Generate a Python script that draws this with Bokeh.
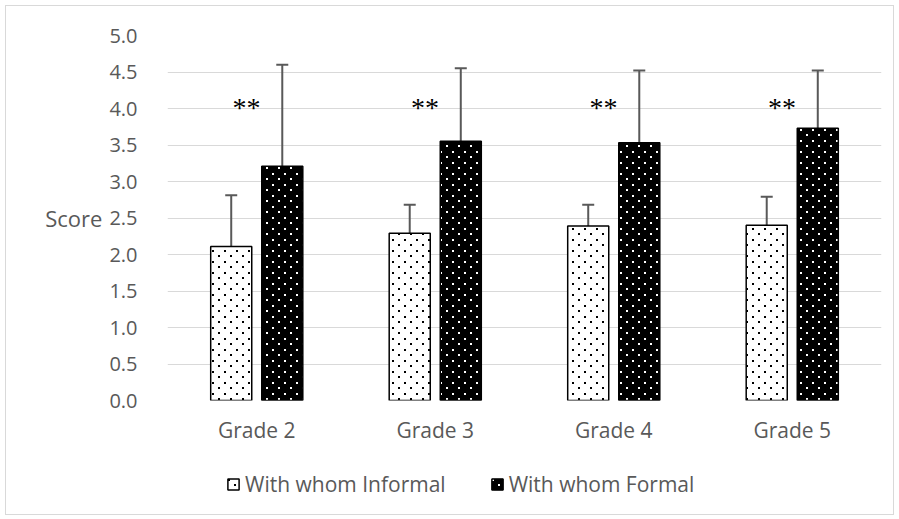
import base64, struct, zlib
from bokeh.plotting import figure
from bokeh.layouts import column
from bokeh.models import (ColumnDataSource, FactorRange, Range1d, Whisker, TeeHead,
                          Legend, LegendItem, ImageURLTexture, FixedTicker, NumeralTickFormatter)
from bokeh.transform import dodge
from bokeh.core.properties import value
from bokeh.embed import file_html
from bokeh.resources import INLINE

grades = ["Grade 2", "Grade 3", "Grade 4", "Grade 5"]
informal = [2.11, 2.29, 2.39, 2.40]
informal_upper = [2.81, 2.68, 2.68, 2.79]
formal = [3.21, 3.55, 3.53, 3.73]
formal_upper = [4.60, 4.55, 4.52, 4.52]
series_names = ["With whom Informal", "With whom Formal"]
star_labels = ["**", "**", "**", "**"]
star_y = [4.02, 4.02, 4.02, 4.02]
y_ticks = [0.0, 0.5, 1.0, 1.5, 2.0, 2.5, 3.0, 3.5, 4.0, 4.5, 5.0]

FONT = "Open Sans"
GRAY = "#595959"


def png_data_url(w, h, dots, fg, bg):
    rows = []
    for y in range(h):
        row = bytearray([0])
        for x in range(w):
            row += bytes(fg if (x, y) in dots else bg)
        rows.append(bytes(row))
    raw = b"".join(rows)

    def chunk(t, d):
        c = struct.pack(">I", len(d)) + t + d
        return c + struct.pack(">I", zlib.crc32(t + d) & 0xffffffff)

    png = (b"\x89PNG\r\n\x1a\n"
           + chunk(b"IHDR", struct.pack(">IIBBBBB", w, h, 8, 6, 0, 0, 0))
           + chunk(b"IDAT", zlib.compress(raw))
           + chunk(b"IEND", b""))
    return "data:image/png;base64," + base64.b64encode(png).decode()


dots = {(2, 2), (3, 2), (2, 3), (3, 3), (8, 7), (9, 7), (8, 8), (9, 8)}
INF_URL = png_data_url(12, 11, dots, (0, 0, 0, 255), (255, 255, 255, 255))
FOR_URL = png_data_url(12, 11, dots, (255, 255, 255, 255), (0, 0, 0, 255))

src = ColumnDataSource(dict(grade=grades, informal=informal, informal_upper=informal_upper,
                            formal=formal, formal_upper=formal_upper,
                            star=star_labels, star_y=star_y))

p = figure(x_range=FactorRange(*grades), y_range=Range1d(0, 5),
           frame_width=714, frame_height=365,
           min_border_left=161, min_border_right=12, min_border_top=29, min_border_bottom=45,
           output_backend="svg", toolbar_location=None)

p.outline_line_color = None
p.xgrid.grid_line_color = None
p.ygrid.grid_line_color = "#d9d9d9"
p.ygrid.grid_line_width = 1.2
p.yaxis.ticker = FixedTicker(ticks=y_ticks)
p.yaxis.formatter = NumeralTickFormatter(format="0.0")
for ax in (p.xaxis, p.yaxis):
    ax.axis_line_color = None
    ax.major_tick_line_color = None
    ax.minor_tick_line_color = None
    ax.major_label_text_font = FONT
    ax.major_label_text_font_size = "20px"
    ax.major_label_text_color = GRAY
p.xaxis.major_label_text_font_size = "21px"
p.yaxis.major_label_standoff = 24
p.xaxis.major_label_standoff = 9
p.yaxis.axis_label = "Score"
p.yaxis.axis_label_orientation = "horizontal"
p.yaxis.axis_label_text_font = FONT
p.yaxis.axis_label_text_font_size = "22px"
p.yaxis.axis_label_text_font_style = "normal"
p.yaxis.axis_label_text_color = GRAY
p.yaxis.axis_label_standoff = 4

off = 0.143
inf_style = dict(fill_color="white", line_color="black", line_width=1.5,
                 hatch_pattern=value("inf"), hatch_extra={"inf": ImageURLTexture(url=INF_URL)})
for_style = dict(fill_color="black", line_color="black", line_width=1.5,
                 hatch_pattern=value("for"), hatch_extra={"for": ImageURLTexture(url=FOR_URL)})

p.vbar(x=dodge("grade", -off, range=p.x_range), top="informal", width=0.23, source=src, **inf_style)
p.vbar(x=dodge("grade", off, range=p.x_range), top="formal", width=0.23, source=src, **for_style)

for base_off, lo, up in ((-off, "informal", "informal_upper"), (off, "formal", "formal_upper")):
    w = Whisker(source=src, base=dodge("grade", base_off, range=p.x_range), lower=lo, upper=up,
                line_color=GRAY, line_width=2,
                upper_head=TeeHead(size=12, line_color=GRAY, line_width=2), lower_head=None)
    p.add_layout(w)

p.text(x=dodge("grade", -0.058, range=p.x_range), y="star_y", text="star", source=src,
       text_font=value("Liberation Serif"), text_font_size="28px", text_align="center",
       text_baseline="alphabetic", text_color="black")

# legend strip below the chart (its renderers are hidden; only the legend shows)
lf = figure(width=887, height=68, x_range=Range1d(0, 1), y_range=Range1d(0, 1),
            min_border=0, x_axis_location=None, y_axis_location=None,
            output_backend="svg", toolbar_location=None)
lf.outline_line_color = None
lf.grid.visible = False
e1 = lf.vbar(x="informal", top="informal", bottom="informal", width=0.1, source=src,
             visible=False, **inf_style)
e2 = lf.vbar(x="formal", top="formal", bottom="formal", width=0.1, source=src,
             visible=False, **for_style)
legend = Legend(items=[LegendItem(label=series_names[0], renderers=[e1]),
                       LegendItem(label=series_names[1], renderers=[e2])],
                orientation="horizontal", location=(59, 16),
                glyph_width=14, glyph_height=14, label_standoff=5, spacing=44,
                label_text_font=FONT, label_text_font_size="21px", label_text_color=GRAY,
                border_line_color=None, background_fill_alpha=0, padding=0, margin=0)
lf.add_layout(legend, "center")

layout = column(p, lf, spacing=0,
                styles={"margin": "5px", "border": "1px solid #d9d9d9"})

open("out.html", "w").write(file_html(layout, INLINE))
